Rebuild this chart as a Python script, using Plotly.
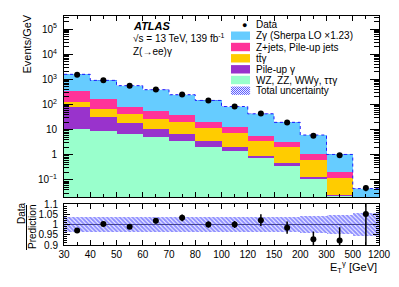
import numpy as np
import plotly.graph_objects as go

# ---------------- data ----------------
edge_labels = ["30", "40", "50", "60", "70", "80", "100", "120", "150", "200", "300", "500", "1200"]

# stacked components, Events/GeV
zgamma  = [1254, 742, 477, 333, 205, 124, 70.6, 36.7, 16.2, 5.03, 0.83, 0.040]
zjets   = [208, 105, 43, 27, 19.5, 9.3, 5.3, 2.2, 1.34, 0.44, 0.08, 0.002]
ttgamma = [45.4, 33, 22, 16.3, 12.8, 8.1, 5.0, 2.69, 1.51, 0.50, 0.095, 0.002]
pileup  = [66.6, 23.1, 11.3, 5.8, 3.1, 1.5, 0.65, 0.19, 0.09, 0.02, 0.002, 0.0005]
others  = [11, 8.9, 6.7, 4.9, 3.6, 2.1, 1.45, 0.72, 0.36, 0.11, 0.023, 0.0005]

data     = [1539, 914, 554, 394, 252, 145, 83, 43.4, 19.2, 5.66, 0.95, 0.0473]
data_err = [9, 7, 5.5, 5, 4, 2.2, 1.4, 1.2, 0.58, 0.23, 0.066, 0.012]

rel_unc = [0.035, 0.035, 0.035, 0.035, 0.035, 0.035, 0.035, 0.035, 0.038, 0.040, 0.045, 0.055]

# ---------------- derived ----------------
nb = len(zgamma)
xc = np.arange(nb) + 0.5
c1 = np.array(others)
c2 = c1 + np.array(pileup)
c3 = c2 + np.array(ttgamma)
c4 = c3 + np.array(zjets)
c5 = c4 + np.array(zgamma)
total = c5
unc = np.array(rel_unc)
ratio = np.array(data) / total
ratio_err = np.array(data_err) / total

COL_Z = "#66CCFF"
COL_ZJ = "#FF3399"
COL_TT = "#FFCC00"
COL_PU = "#9933CC"
COL_OT = "#99FFCC"
COL_UNC = "#2020ff"
FONT = "Liberation Sans, Arial, Helvetica, sans-serif"

fig = go.Figure()

for vals, col in [(c5, COL_Z), (c4, COL_ZJ), (c3, COL_TT), (c2, COL_PU), (c1, COL_OT)]:
    fig.add_trace(go.Bar(x=xc, y=vals, width=1.0, marker=dict(color=col, line=dict(width=0)),
                         xaxis="x", yaxis="y", showlegend=False, hoverinfo="skip"))

# total uncertainty band in main panel
fig.add_trace(go.Bar(x=xc, y=2 * unc * total, base=total * (1 - unc), width=1.0,
                     marker=dict(color="rgba(0,0,0,0)", line=dict(width=0),
                                 pattern=dict(shape="\\", fgcolor=COL_UNC, bgcolor="rgba(0,0,0,0)",
                                              size=3, solidity=0.5)),
                     xaxis="x", yaxis="y", showlegend=False, hoverinfo="skip"))
fig.add_trace(go.Scatter(x=np.arange(nb + 1), y=list(total) + [total[-1]], mode="lines",
                         line=dict(shape="hv", color=COL_UNC, width=1, dash="dot"),
                         xaxis="x", yaxis="y", showlegend=False, hoverinfo="skip"))

fig.add_trace(go.Scatter(x=xc, y=data, mode="markers",
                         marker=dict(color="black", size=6),
                         error_y=dict(type="data", array=data_err, color="black", thickness=1.5, width=0),
                         xaxis="x", yaxis="y", showlegend=False, hoverinfo="skip"))

# ratio panel
fig.add_trace(go.Bar(x=xc, y=2 * unc, base=1 - unc, width=1.0,
                     marker=dict(color="rgba(0,0,0,0)", line=dict(width=0),
                                 pattern=dict(shape="\\", fgcolor=COL_UNC, bgcolor="rgba(0,0,0,0)",
                                              size=3, solidity=0.7)),
                     xaxis="x2", yaxis="y2", showlegend=False, hoverinfo="skip"))
fig.add_trace(go.Scatter(x=xc, y=ratio, mode="markers",
                         marker=dict(color="black", size=6),
                         error_y=dict(type="data", array=ratio_err, color="black", thickness=1.5, width=0),
                         xaxis="x2", yaxis="y2", showlegend=False, hoverinfo="skip"))

# ---------------- layout geometry ----------------
# page offset (browser body margin) compensation
OFF = 8
W, H = 399 - OFF, 287 - OFF
ML, MR, MT, MB = 64 - OFF, 20, 16 - OFF, 42
PW, PH = W - ML - MR, H - MT - MB


def px(xp):
    return (xp - OFF - ML) / PW


def py(yp):
    return (H - MB - (yp - OFF)) / PH


main_dom = [py(197), 1.0]
ratio_dom = [0.0, py(204)]

log_minor = [k * 10.0 ** n for n in range(-2, 6) for k in range(2, 10)]

axis_common = dict(showline=True, linecolor="black", linewidth=1, mirror="allticks",
                   showgrid=False, zeroline=False, ticks="inside", tickcolor="black",
                   tickfont=dict(family=FONT, size=10, color="black"))

fig.update_layout(
    width=W, height=H, margin=dict(l=ML, r=MR, t=MT, b=MB, autoexpand=False),
    paper_bgcolor="white", plot_bgcolor="white",
    barmode="overlay", bargap=0, showlegend=False,
    font=dict(family=FONT, color="black"),
    xaxis=dict(domain=[0, 1], anchor="y", range=[0, nb], tickvals=list(range(nb + 1)),
               showticklabels=False, ticklen=5,
               minor=dict(tickvals=list(xc), ticks="inside", ticklen=3, tickcolor="black"),
               **axis_common),
    yaxis=dict(domain=main_dom, anchor="x", type="log", range=[-1.68, 5.52],
               tickvals=[0.1, 1, 10, 100, 1e3, 1e4, 1e5],
               ticktext=["10<sup>−1</sup>", "1", "10", "10<sup>2</sup>", "10<sup>3</sup>",
                         "10<sup>4</sup>", "10<sup>5</sup>"],
               ticklen=9, ticklabelstandoff=4,
               minor=dict(tickvals=log_minor, ticks="inside", ticklen=5, tickcolor="black"),
               **axis_common),
    xaxis2=dict(domain=[0, 1], anchor="y2", range=[0, nb], tickvals=list(range(nb + 1)),
                ticktext=edge_labels, ticklen=5,
                minor=dict(tickvals=list(xc), ticks="inside", ticklen=3, tickcolor="black"),
                **axis_common),
    yaxis2=dict(domain=ratio_dom, anchor="x2", range=[0.9, 1.1],
                tickvals=[0.9, 0.95, 1.0, 1.05, 1.1], ticktext=["0.9", "0.95", "1", "1.05", "1.1"],
                ticklen=6, ticklabelstandoff=3,
                minor=dict(dtick=0.01, ticks="inside", ticklen=3, tickcolor="black"),
                **axis_common),
)

shapes = []
annots = []

shapes.append(dict(type="line", xref="x2", yref="y2", x0=0, x1=nb, y0=1, y1=1,
                   line=dict(color="#555555", width=1), layer="below"))

# axis titles
annots.append(dict(text="Events/GeV", xref="paper", yref="paper", x=px(26), y=py(13),
                   xanchor="center", yanchor="top", textangle=-90, showarrow=False,
                   font=dict(family=FONT, size=11)))
annots.append(dict(text="Data", xref="paper", yref="paper", x=px(21), y=py(213),
                   xanchor="center", yanchor="middle", textangle=-90, showarrow=False,
                   font=dict(family=FONT, size=10)))
annots.append(dict(text="Prediction", xref="paper", yref="paper", x=px(32), y=py(227),
                   xanchor="center", yanchor="middle", textangle=-90, showarrow=False,
                   font=dict(family=FONT, size=10)))
shapes.append(dict(type="line", xref="paper", yref="paper", x0=px(26.5), x1=px(26.5),
                   y0=py(205), y1=py(250), line=dict(color="black", width=1)))
annots.append(dict(text="E<sub>T</sub><sup>γ</sup> [GeV]", xref="paper", yref="paper",
                   x=1.0, y=py(257), xanchor="right", yanchor="top", showarrow=False,
                   font=dict(family=FONT, size=11)))

# ATLAS labels
annots.append(dict(text="<b><i>ATLAS</i></b>", xref="paper", yref="paper", x=px(131), y=py(26),
                   xanchor="left", yanchor="middle", showarrow=False, font=dict(family=FONT, size=11)))
annots.append(dict(text="√s = 13 TeV, 139 fb<sup>-1</sup>", xref="paper", yref="paper", x=px(131), y=py(38),
                   xanchor="left", yanchor="middle", showarrow=False, font=dict(family=FONT, size=10)))
annots.append(dict(text="Z(→ee)γ", xref="paper", yref="paper", x=px(131), y=py(51),
                   xanchor="left", yanchor="middle", showarrow=False, font=dict(family=FONT, size=10)))

# manual legend
leg_items = [("Zγ (Sherpa LO ×1.23)", COL_Z), ("Z+jets, Pile-up jets", COL_ZJ),
             ("tt\u0304γ", COL_TT),
             ("Pile-up γ", COL_PU), ("WZ, ZZ, WWγ, ττγ", COL_OT)]
row_y = [24.7, 35.7, 47.0, 58.3, 69.3, 80.0, 90.7]
sx0, sx1, tx = 231, 250, 253.5
annots.append(dict(text="●", xref="paper", yref="paper", x=px(244), y=py(row_y[0]),
                   xanchor="center", yanchor="middle", showarrow=False, font=dict(family=FONT, size=9)))
annots.append(dict(text="Data", xref="paper", yref="paper", x=px(tx), y=py(row_y[0]),
                   xanchor="left", yanchor="middle", showarrow=False, font=dict(family=FONT, size=10)))
for (lab, col), yc in zip(leg_items, row_y[1:6]):
    shapes.append(dict(type="rect", xref="paper", yref="paper", x0=px(sx0), x1=px(sx1),
                       y0=py(yc + 4.2), y1=py(yc - 4.2), fillcolor=col, line=dict(width=0)))
    annots.append(dict(text=lab, xref="paper", yref="paper", x=px(tx), y=py(yc),
                       xanchor="left", yanchor="middle", showarrow=False, font=dict(family=FONT, size=10)))
yc = row_y[6]
top, bot = yc - 4.2, yc + 4.2
hgt = bot - top
segs = []
t = sx0 - hgt
while t < sx1:
    xa, ya = t, top
    xb, yb = t + hgt, bot
    if xa < sx0:
        ya = top + (sx0 - xa)
        xa = sx0
    if xb > sx1:
        yb = bot - (xb - sx1)
        xb = sx1
    if xb > xa:
        segs.append(f"M{px(xa):.5f},{py(ya):.5f} L{px(xb):.5f},{py(yb):.5f}")
    t += 2.0
shapes.append(dict(type="path", xref="paper", yref="paper", path=" ".join(segs),
                   line=dict(color=COL_UNC, width=0.8)))
annots.append(dict(text="Total uncertainty", xref="paper", yref="paper", x=px(tx), y=py(yc),
                   xanchor="left", yanchor="middle", showarrow=False, font=dict(family=FONT, size=10)))

fig.update_layout(shapes=shapes, annotations=annots)
fig.write_html("out.html")
